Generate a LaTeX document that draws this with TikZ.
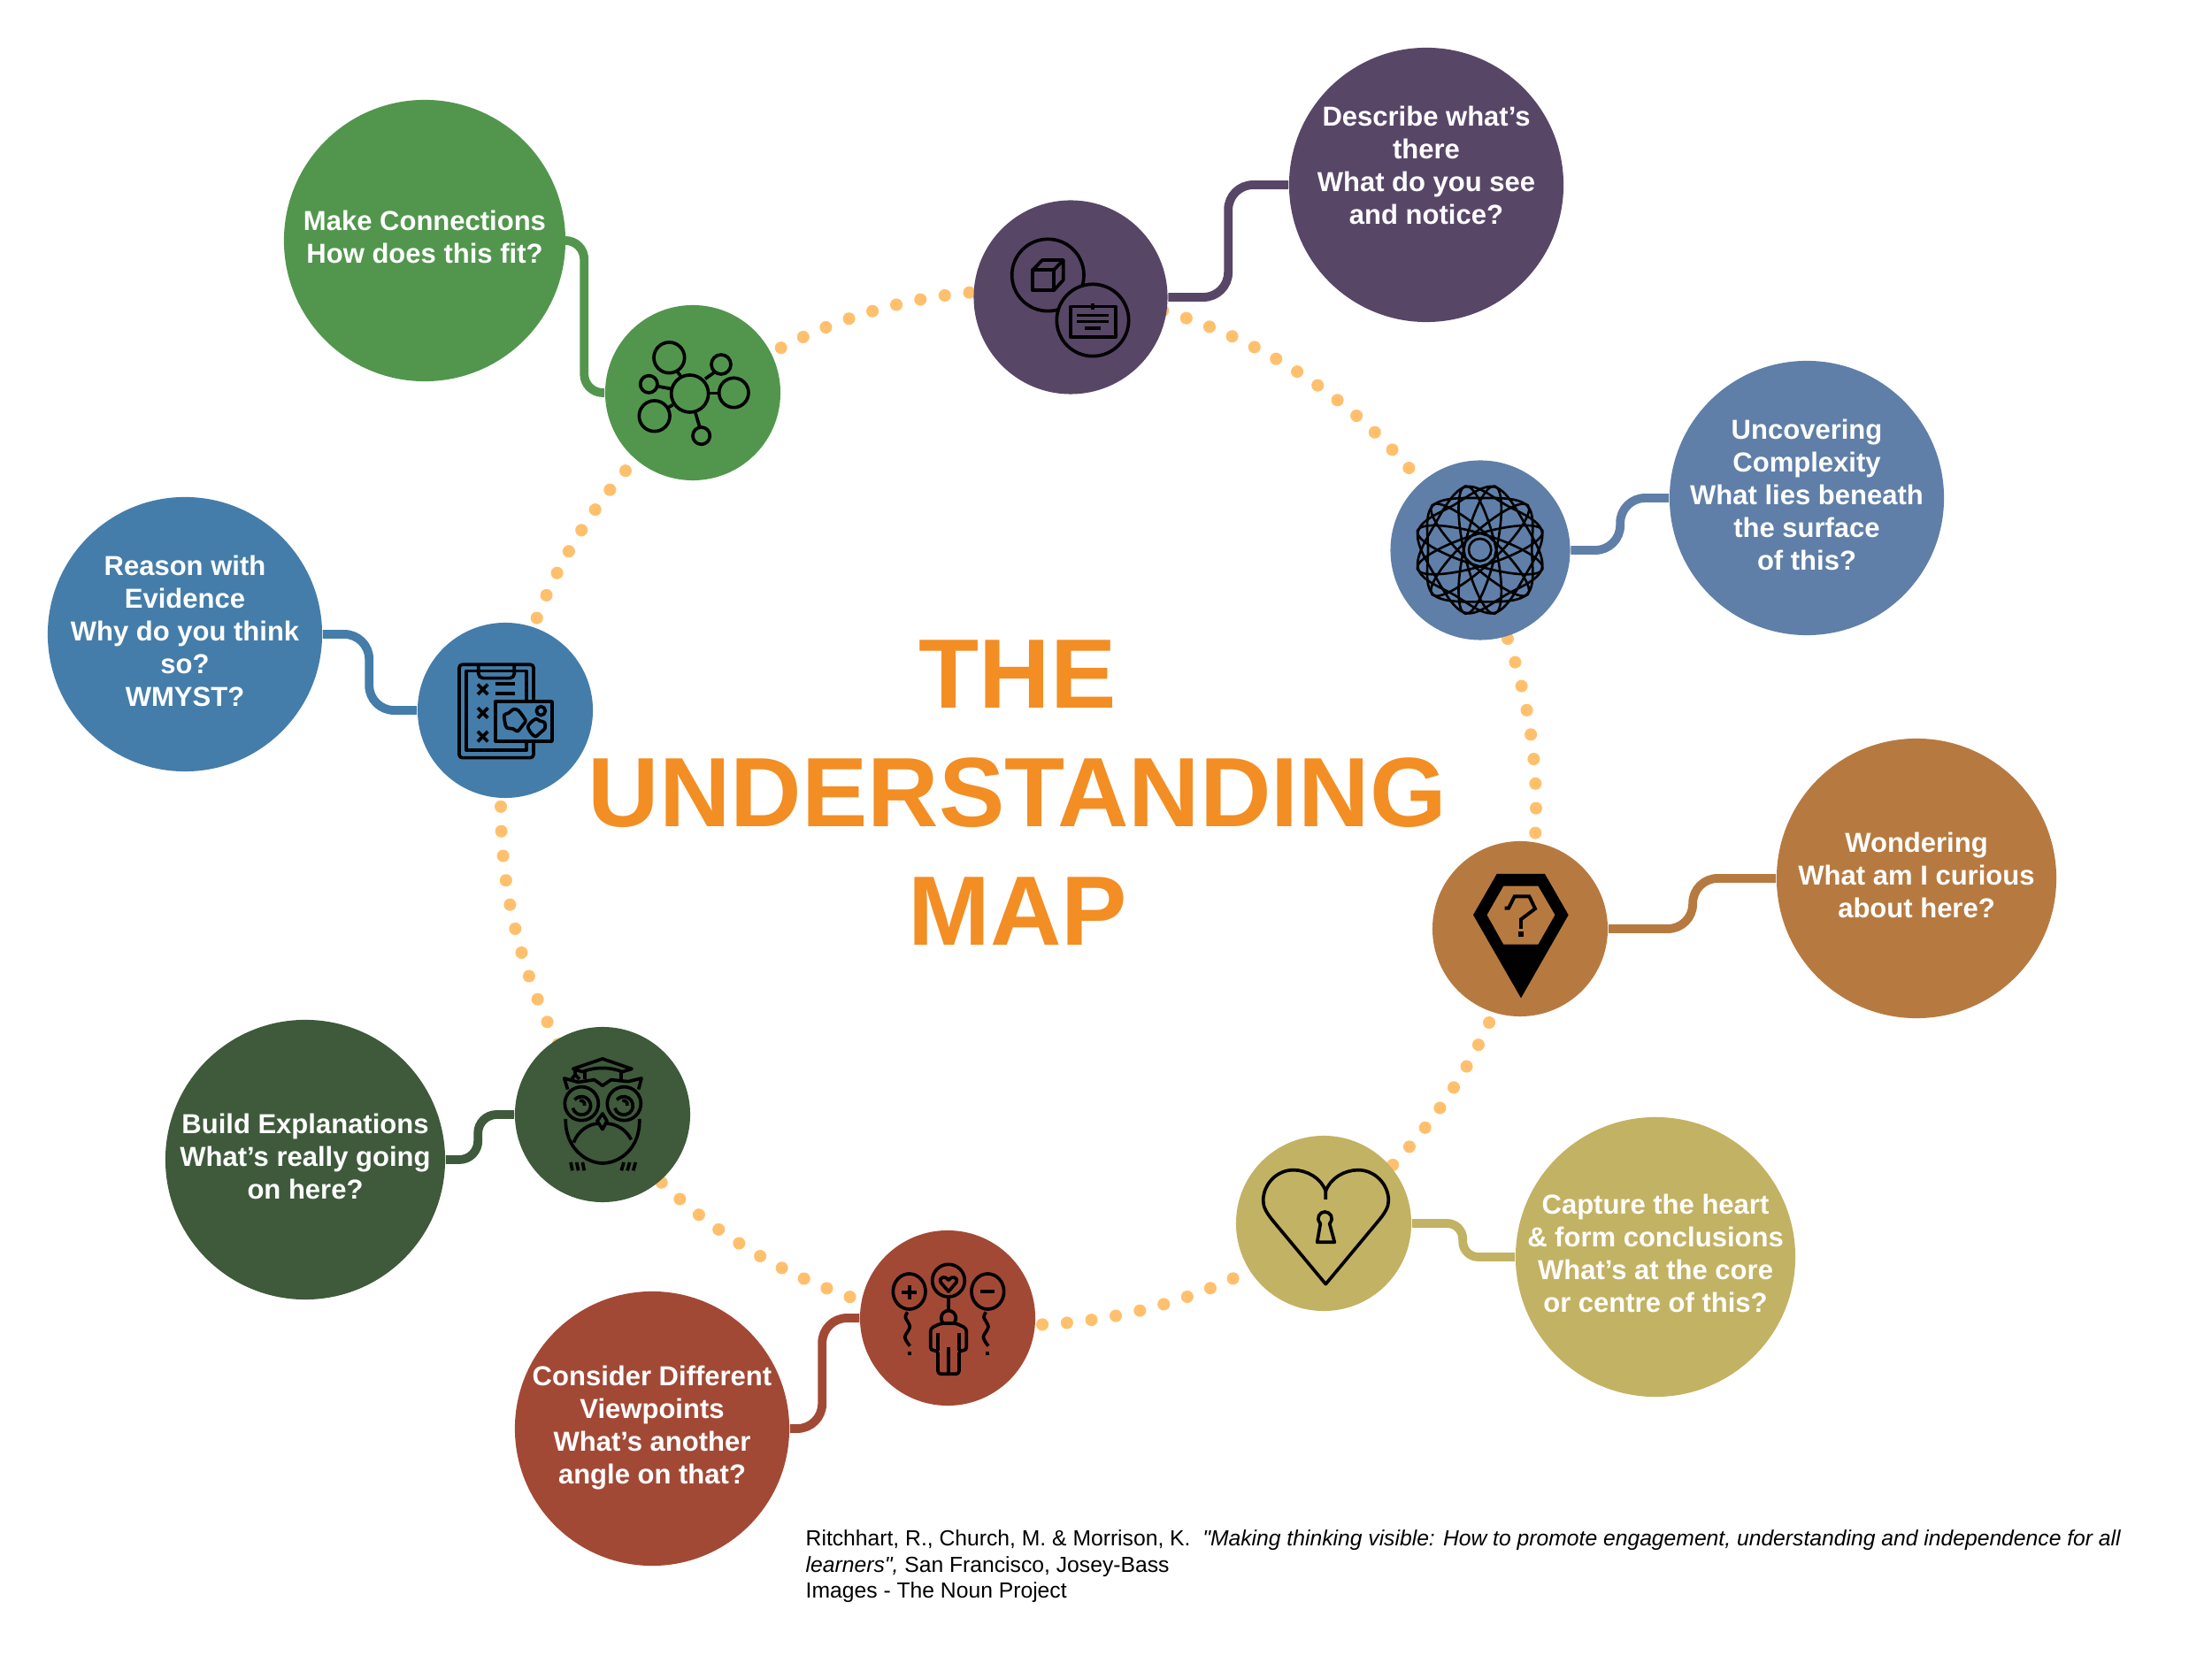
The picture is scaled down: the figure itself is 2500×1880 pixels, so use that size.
\documentclass[tikz,border=0pt]{standalone}
\usepackage{fontspec}
\usepackage{xcolor}
\setmainfont{Liberation Sans}[Ligatures=TeXOff]
\definecolor{plum}{HTML}{584667}
\definecolor{leaf}{HTML}{52964E}
\definecolor{slate}{HTML}{5F7FA8}
\definecolor{ochre}{HTML}{B67A40}
\definecolor{khaki}{HTML}{C2B263}
\definecolor{brick}{HTML}{A24936}
\definecolor{forest}{HTML}{3E5A3B}
\definecolor{ocean}{HTML}{447DAA}
\definecolor{titleorange}{HTML}{F28E24}
\definecolor{ringdot}{HTML}{FFC06E}
\newcommand{\lift}{\\[-0.29cm]~}

\begin{document}
\begin{tikzpicture}[x=0.01cm, y=-0.01cm,
    hub/.style={circle, inner sep=0pt, minimum size=1.98cm},
    bubble/.style={circle, inner sep=-0.5cm, minimum size=#1, text=white, align=center,
        font=\fontsize{8.82}{10.5}\selectfont\bfseries},
    link/.style={line width=2.8pt},
    crop/.style={shift={#1}, scale=0.3333},
    icon/.style={draw=black, line width=1.05pt, line join=round}]
\useasboundingbox (0,0) rectangle (2500,1880);

% Dotted ring
\coordinate (ringCentre) at (1151,913);
\foreach \a/\b in {-73.8/-41, -19.05/3.5, 24.55/44, 65.5/87.5, 109/137, 152.8/181, 201.5/221, 242.7/265} {
    \draw[ringdot, line width=4pt, line cap=round, dash pattern=on 0pt off 7.93pt] (ringCentre) ++(\a:585) arc (\a:\b:585);
}

% Small circles
\node[hub, fill=plum, minimum size=2.19cm] (seeHub) at (1210,336) {};
\node[hub, fill=leaf] (connectHub) at (783,444) {};
\node[hub, fill=slate, minimum size=2.03cm] (complexHub) at (1673,622) {};
\node[hub, fill=ochre] (wonderHub) at (1718,1050) {};
\node[hub, fill=khaki] (heartHub) at (1496,1383) {};
\node[hub, fill=brick] (viewHub) at (1071,1490) {};
\node[hub, fill=forest] (explainHub) at (681,1260) {};
\node[hub, fill=ocean] (reasonHub) at (571,803) {};

% Big circles
\node[bubble=3.1cm, fill=plum] (seeBig) at (1612,209) {Describe what’s\\there\\What do you see\\and notice?\\[0.08cm]~};
\node[bubble=3.18cm, fill=leaf] (connectBig) at (480,272) {Make Connections\\How does this fit?\lift};
\node[bubble=3.1cm, fill=slate] (complexBig) at (2042,563) {Uncovering\\Complexity\\What lies beneath\\the surface\\of this?\lift};
\node[bubble=3.16cm, fill=ochre] (wonderBig) at (2166,993) {Wondering\\What am I curious\\about here?\lift};
\node[bubble=3.16cm, fill=khaki] (heartBig) at (1871,1421) {Capture the heart\\\&\ form conclusions\\What’s at the core\\or centre of this?\lift};
\node[bubble=3.1cm, fill=brick] (viewBig) at (737,1615) {Consider Different\\Viewpoints\\What’s another\\angle on that?\lift};
\node[bubble=3.16cm, fill=forest] (explainBig) at (345,1311) {Build Explanations\\What’s really going\\on here?\lift};
\node[bubble=3.1cm, fill=ocean] (reasonBig) at (209,717) {Reason with\\Evidence\\Why do you think\\so?\\WMYST?\lift};

% Connectors
\draw[link, plum, rounded corners=8pt] (seeHub.east) -| ([xshift=-0.68cm]seeBig.west) -- (seeBig.west);
\draw[link, leaf, rounded corners=6pt] (connectBig.east) -| ([xshift=-0.23cm]connectHub.west) -- (connectHub.west);
\draw[link, slate, rounded corners=8pt] (complexHub.east) -| ([xshift=-0.55cm]complexBig.west) -- (complexBig.west);
\draw[link, ochre, rounded corners=8pt] (wonderHub.east) -| ([xshift=-0.94cm]wonderBig.west) -- (wonderBig.west);
\draw[link, khaki, rounded corners=5pt] (heartHub.east) -| ([xshift=-0.59cm]heartBig.west) -- (heartBig.west);
\draw[link, brick, rounded corners=8pt] (viewBig.east) -| ([xshift=-0.42cm]viewHub.west) -- (viewHub.west);
\draw[link, forest, rounded corners=6pt] (explainBig.east) -| ([xshift=-0.41cm]explainHub.west) -- (explainHub.west);
\draw[link, ocean, rounded corners=8pt] (reasonBig.east) -| ([xshift=-0.54cm]reasonHub.west) -- (reasonHub.west);

% Title
\node[text=titleorange, align=center, font=\fontsize{31.7}{38.1}\selectfont\bfseries] (mapTitle) at (1150,896) {THE\\UNDERSTANDING\\MAP};

% Source note
\node[anchor=north west, inner sep=0pt, align=left, font=\fontsize{7.02}{8.4}\selectfont] (sourceNote) at (910,1729)
    {Ritchhart, R., Church, M. \& Morrison, K.\ \ \textit{\char34 Making thinking visible: How to promote engagement, understanding and independence for all}\\
    \textit{learners\char34,} San Francisco, Josey-Bass\\
    Images - The Noun Project};

% Box and card icon
\begin{scope}[crop={(1100,226)}]
\draw[icon] (253,255) circle (122);
\draw[icon, fill=plum] (405,408) circle (122);
\draw[icon] (201,238) rectangle (273,307);
\draw[icon] (201,238) -- (234,204) -- (305,204) -- (273,238);
\draw[icon] (305,204) -- (305,272) -- (273,307);
\draw[icon] (331,362) rectangle (482,466);
\draw[icon] (405,352) -- (405,372);
\draw[icon] (352,392) -- (458,392);
\draw[icon] (352,413) -- (458,413);
\draw[icon] (378,436) -- (433,436);
\end{scope}

% Network icon
\begin{scope}[crop={(673,335)}]
\draw[icon] (320,330) circle (63);
\draw[icon] (250,208) circle (52);
\draw[icon] (426,231) circle (33);
\draw[icon] (181,298) circle (29);
\draw[icon] (469,327) circle (50);
\draw[icon] (200,406) circle (52);
\draw[icon] (359,473) circle (29);
\draw[icon] (277,255) -- (290,272);
\draw[icon] (372,280) -- (403,258);
\draw[icon] (210,305) -- (258,314);
\draw[icon] (387,329) -- (418,329);
\draw[icon] (243,380) -- (262,368);
\draw[icon] (338,392) -- (353,442);
\end{scope}

% Spirograph icon
\begin{scope}[crop={(1560,500)}]
\begin{scope}[shift={(338,365)}]
\foreach \a in {0,60,120} {
    \draw[icon, line width=0.75pt, rotate=\a] plot[smooth cycle, tension=0.6] coordinates {(160,150) (0,176) (-160,150) (-176,0) (-160,-150) (0,-176) (160,-150) (176,0)};
    \draw[icon, line width=0.75pt, rotate=\a+43] (0,0) ellipse (222 and 54);
    \draw[icon, line width=0.75pt, rotate=\a+137] (0,0) ellipse (222 and 54);
}
\draw[icon, line width=0.75pt, fill=slate] (0,0) circle (38);
\end{scope}
\end{scope}

% Diamond pin icon
\begin{scope}[crop={(1610,950)}]
\fill[black] (245,114) -- (408,114) -- (488,253) -- (327,535) -- (165,253) -- cycle;
\fill[ochre] (268,155) -- (385,155) -- (442,253) -- (385,353) -- (268,353) -- (212,253) -- cycle;
\draw[black, line width=1.1pt] (272,230) -- (285,230) -- (305,190) -- (355,190) -- (375,232) -- (327,268) -- (327,300);
\fill[black] (319,310) rectangle (335,327);
\end{scope}

% Heart lock icon
\begin{scope}[crop={(1390,1280)}]
\draw[icon] (325,228) -- (325,200) .. controls (310,155) and (260,128) .. (215,128) .. controls (160,128) and (113,175) .. (113,232) .. controls (113,255) and (125,275) .. (150,305) -- (325,515) -- (500,305) .. controls (525,275) and (538,255) .. (538,232) .. controls (538,175) and (490,128) .. (435,128) .. controls (390,128) and (340,155) .. (325,200);
\draw[icon] (307,310) .. controls (290,290) and (305,270) .. (322,270) .. controls (340,270) and (355,290) .. (338,310) -- (355,373) -- (296,373) -- cycle;
\end{scope}

% Person with balloons icon
\begin{scope}[crop={(960,1390)}]
\draw[icon] (203,210) ellipse (55 and 60);
\draw[icon] (178,213) -- (228,213);
\draw[icon] (203,190) -- (203,236);
\draw[icon] (336,173) circle (55);
\draw[icon] (336,210) -- (310,180) .. controls (300,160) and (328,155) .. (336,172) .. controls (344,155) and (372,160) .. (362,180) -- cycle;
\draw[icon] (469,210) ellipse (55 and 60);
\draw[icon] (444,210) -- (492,210);
\draw[icon] plot[smooth] coordinates {(197,280) (190,298) (205,330) (188,365) (205,395)};
\draw[icon] plot[smooth] coordinates {(463,280) (456,298) (471,330) (454,365) (471,395)};
\fill[black] (197,415) rectangle (209,427);
\fill[black] (463,415) rectangle (475,427);
\draw[icon] (336,230) -- (336,275);
\draw[icon] (336,300) circle (25);
\draw[icon, fill=brick, rounded corners=1pt] (275,410) -- (275,335) -- (310,318) -- (362,318) -- (397,335) -- (397,410) -- (372,410) -- (372,490) -- (300,490) -- (300,410) -- cycle;
\draw[icon] (300,410) -- (300,352);
\draw[icon] (372,410) -- (372,352);
\draw[icon] (336,400) -- (336,490);
\end{scope}

% Owl icon
\begin{scope}[crop={(570,1150)}]
\draw[icon] (233,175) -- (333,141) -- (432,175) -- (400,185) .. controls (360,168) and (305,168) .. (265,185) -- cycle;
\draw[icon] (272,185) -- (272,210);
\draw[icon] (397,185) -- (397,210);
\draw[icon] (240,180) -- (240,195);
\draw[icon] (228,210) -- (240,195) -- (255,210);
\draw[icon] (215,245) -- (203,207) -- (250,220) -- (305,212) -- (333,232) -- (362,212) -- (420,218) -- (465,207) -- (455,245);
\draw[icon] (262,293) circle (57);
\draw[icon] (406,293) circle (57);
\draw[icon] (232,308) arc (165:-140:31);
\draw[icon] (375,308) arc (165:-140:31);
\draw[icon] (255,283) arc (-110:20:13);
\draw[icon] (400,283) arc (-110:20:13);
\draw[icon] (333,327) -- (348,352) -- (333,380) -- (315,352) -- cycle;
\draw[icon] (208,345) .. controls (205,445) and (280,495) .. (333,495) .. controls (390,495) and (462,445) .. (458,345);
\draw[icon] (235,425) .. controls (250,385) and (285,362) .. (320,360);
\draw[icon] (346,360) .. controls (385,362) and (415,385) .. (430,415);
\foreach \x in {225,245,265} {\draw[icon] (\x,492) -- (\x+6,520);}
\foreach \x in {405,425,445} {\draw[icon] (\x,492) -- (\x-8,520);}
\end{scope}

% Clipboard icon
\begin{scope}[crop={(460,700)}]
\draw[icon, rounded corners=1pt] (177,154) rectangle (429,470);
\draw[icon] (201,176) rectangle (405,445);
\draw[icon, rounded corners=1.5pt] (242,156) -- (242,200) -- (364,200) -- (364,156);
\foreach \y in {238,318,398} {
    \draw[icon] (240,\y-17) -- (274,\y+17);
    \draw[icon] (240,\y+17) -- (274,\y-17);
}
\draw[icon] (300,220) -- (367,220);
\draw[icon] (300,252) -- (367,252);
\draw[icon, fill=ocean] (301,279) rectangle (492,414);
\draw[icon] plot[smooth cycle] coordinates {(362,305) (345,318) (330,325) (332,350) (338,368) (360,372) (375,380) (392,360) (402,345) (390,325) (378,310)};
\draw[icon] plot[smooth cycle] coordinates {(438,338) (420,350) (410,365) (420,385) (435,398) (452,385) (468,370) (466,350) (450,345)};
\draw[icon] (454,311) circle (15);
\end{scope}
\end{tikzpicture}
\end{document}
